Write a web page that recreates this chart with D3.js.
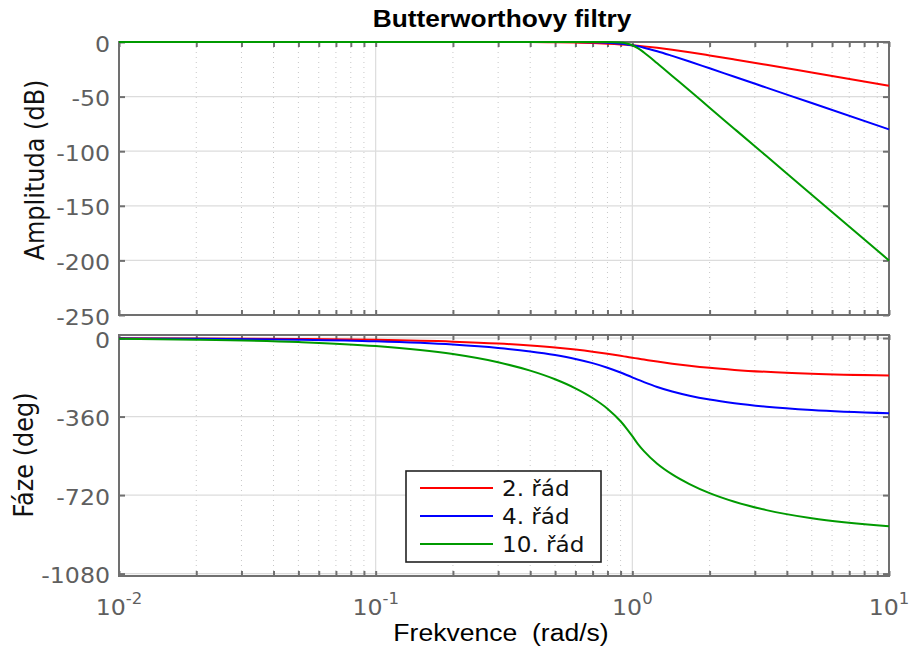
<!DOCTYPE html>
<html>
<head>
<meta charset="utf-8">
<script src="https://cdn.jsdelivr.net/npm/d3@7"></script>
<style>
  body { margin: 0; background: #fff; }
  svg { display: block; }
</style>
</head>
<body>
<svg id="chart" width="910" height="648"></svg>
<script>
// frequencies (rad/s)
const freq = [0.01, 0.02, 0.05, 0.1, 0.2, 0.3, 0.4, 0.5, 0.6, 0.7, 0.8, 0.9, 0.95, 1,
              1.05, 1.11, 1.25, 1.43, 1.67, 2, 2.5, 3.33, 5, 10];

// amplitude (dB)
const mag2  = [0, 0, 0, 0, -0.01, -0.04, -0.11, -0.26, -0.53, -0.93, -1.49, -2.19, -2.59, -3.01,
               -3.45, -4.01, -5.37, -7.14, -9.4, -12.3, -16.03, -20.93, -27.96, -40];
const mag4  = [0, 0, 0, 0, 0, 0, 0, -0.02, -0.07, -0.24, -0.67, -1.56, -2.21, -3.01,
               -3.94, -5.19, -8.43, -12.67, -17.82, -24.1, -31.84, -41.8, -55.92, -80];
const mag10 = [0, 0, 0, 0, 0, 0, 0, 0, 0, 0, -0.05, -0.5, -1.33, -3.01,
               -5.63, -9.56, -19.43, -31.07, -44.37, -60.21, -79.59, -104.49, -139.79, -200];

// phase (deg)
const ph2  = [-0.8, -1.6, -4.1, -8.1, -16.4, -25, -34, -43.3, -53, -62.7, -72.4, -81.5, -85.9, -90,
              -94.2, -98.5, -107.7, -117.3, -127, -136.7, -146, -155, -163.6, -171.9];
const ph4  = [-1.5, -3, -7.5, -15, -30.1, -45.5, -61.4, -78, -95.7, -114.9, -135.9, -158.1, -169.2, -180,
              -190.8, -201.9, -224.2, -245.1, -264.3, -282, -298.6, -314.5, -329.9, -345];
const ph10 = [-3.7, -7.3, -18.3, -36.7, -73.6, -111.1, -149.4, -189, -230.5, -274.8, -323.8, -381.6, -415, -450,
              -485, -518.4, -576.2, -625.2, -669.5, -711, -750.6, -788.9, -826.4, -863.3];

const seriesNames = ["2. řád", "4. řád", "10. řád"];
const seriesColors = ["#ff0000", "#0000ff", "#009a00"];
const magTicks = [0, -50, -100, -150, -200, -250];
const phaseTicks = [0, -360, -720, -1080];
const decadeTicks = [0.01, 0.1, 1, 10];
const decadeLabels = ["-2", "-1", "0", "1"];

const svg = d3.select("#chart");
const sx = 1.1;  // the reference text is a little wider than tall

const left = 119, right = 889;
const x = d3.scaleLog().domain([0.01, 10]).range([left, right]);
const yMag = d3.scaleLinear().domain([0, -250]).range([42, 315]);
const yPh = d3.scaleLinear().domain([14, -1091]).range([335, 576]);

// minor ticks: 2..9 in each decade
let minorTicks = [];
[0.01, 0.1, 1].forEach(d => { for (let k = 2; k <= 9; k++) minorTicks.push(+(k * d).toPrecision(3)); });

function panel(y, yTicks, series, top, bottom) {
  const g = svg.append("g");

  // grid
  g.append("g").selectAll("line").data(minorTicks).join("line")
    .attr("x1", d => x(d)).attr("x2", d => x(d))
    .attr("y1", top).attr("y2", bottom)
    .attr("stroke", "#c8c8c8").attr("stroke-width", 1).attr("stroke-dasharray", "1,4");
  g.append("g").selectAll("line").data([0.1, 1]).join("line")
    .attr("x1", d => x(d)).attr("x2", d => x(d))
    .attr("y1", top).attr("y2", bottom)
    .attr("stroke", "#dcdcdc").attr("stroke-width", 1.2);
  g.append("g").selectAll("line").data(yTicks).join("line")
    .attr("x1", left).attr("x2", right)
    .attr("y1", d => y(d)).attr("y2", d => y(d))
    .attr("stroke", "#dcdcdc").attr("stroke-width", 1.2);

  // axes with inward ticks
  const axCol = "#707070";
  const axes = [
    g.append("g").attr("transform", `translate(0,${bottom})`)
      .call(d3.axisBottom(x).tickValues(minorTicks.concat(decadeTicks)).tickSize(-5).tickSizeOuter(0).tickFormat("")),
    g.append("g").attr("transform", `translate(0,${top})`)
      .call(d3.axisTop(x).tickValues(minorTicks.concat(decadeTicks)).tickSize(-5).tickSizeOuter(0).tickFormat("")),
    g.append("g").attr("transform", `translate(${left},0)`)
      .call(d3.axisLeft(y).tickValues(yTicks).tickSize(-6).tickSizeOuter(0).tickFormat("")),
    g.append("g").attr("transform", `translate(${right},0)`)
      .call(d3.axisRight(y).tickValues(yTicks).tickSize(-6).tickSizeOuter(0).tickFormat(""))
  ];
  axes.forEach(a => {
    a.select(".domain").remove();
    a.selectAll("line").attr("stroke", axCol).attr("stroke-width", 2);
  });

  g.append("rect").attr("x", left).attr("y", top)
    .attr("width", right - left).attr("height", bottom - top)
    .attr("fill", "none").attr("stroke", axCol).attr("stroke-width", 2);

  // y tick labels
  g.append("g").selectAll("text").data(yTicks).join("text")
    .attr("transform", d => `translate(110,${y(d)}) scale(${sx},1)`)
    .attr("dy", "0.45em")
    .attr("text-anchor", "end")
    .attr("font-family", "DejaVu Sans").attr("font-size", 21.5).attr("fill", "#5f5f5f")
    .text(d => d);

  // curves
  const line = d3.line().x(d => x(d[0])).y(d => y(d[1])).curve(d3.curveMonotoneX);
  series.forEach((vals, i) => {
    g.append("path")
      .datum(freq.map((f, j) => [f, vals[j]]))
      .attr("d", line)
      .attr("fill", "none").attr("stroke", seriesColors[i]).attr("stroke-width", 2);
  });
}

panel(yMag, magTicks, [mag2, mag4, mag10], 42, 315);
panel(yPh, phaseTicks, [ph2, ph4, ph10], 335, 576);

// x tick labels 10^n
const xl = svg.append("g").selectAll("text").data(decadeTicks).join("text")
  .attr("transform", d => `translate(${x(d)},615) scale(${sx},1)`)
  .attr("text-anchor", "middle")
  .attr("font-family", "DejaVu Sans").attr("font-size", 21.5).attr("fill", "#5f5f5f");
xl.append("tspan").text("10");
xl.append("tspan").attr("dy", -11).attr("font-size", 15).text((d, i) => decadeLabels[i]);

// title and axis labels
svg.append("text")
  .attr("transform", `translate(502,27) scale(1.12,1)`)
  .attr("text-anchor", "middle")
  .attr("font-family", "Liberation Sans, Arial").attr("font-weight", "bold").attr("font-size", 23.5)
  .text("Butterworthovy filtry");

svg.append("text")
  .attr("transform", `translate(501,641) scale(1.13,1)`)
  .attr("text-anchor", "middle")
  .attr("font-family", "Liberation Sans, Arial").attr("font-size", 23.5)
  .attr("xml:space", "preserve")
  .text("Frekvence  (rad/s)");

svg.append("text")
  .attr("transform", `translate(44,170) scale(${sx},1) rotate(-90)`)
  .attr("text-anchor", "middle")
  .attr("font-family", "DejaVu Sans").attr("font-size", 24).attr("fill", "#111")
  .text("Amplituda (dB)");

svg.append("text")
  .attr("transform", `translate(33,455) scale(${sx},1) rotate(-90)`)
  .attr("text-anchor", "middle")
  .attr("font-family", "DejaVu Sans").attr("font-size", 24).attr("fill", "#111")
  .text("Fáze (deg)");

// legend
const leg = svg.append("g");
leg.append("rect").attr("x", 406).attr("y", 471).attr("width", 195).attr("height", 91)
  .attr("fill", "#fff").attr("stroke", "#222").attr("stroke-width", 1.6);
const rowY = d3.scalePoint().domain(seriesNames).range([488, 544]);
seriesNames.forEach((name, i) => {
  leg.append("line").attr("x1", 420).attr("x2", 493)
    .attr("y1", rowY(name)).attr("y2", rowY(name))
    .attr("stroke", seriesColors[i]).attr("stroke-width", 2);
  leg.append("text")
    .attr("transform", `translate(502,${rowY(name) + 8}) scale(${sx},1)`)
    .attr("font-family", "DejaVu Sans").attr("font-size", 21).attr("fill", "#111")
    .text(name);
});
</script>
</body>
</html>
